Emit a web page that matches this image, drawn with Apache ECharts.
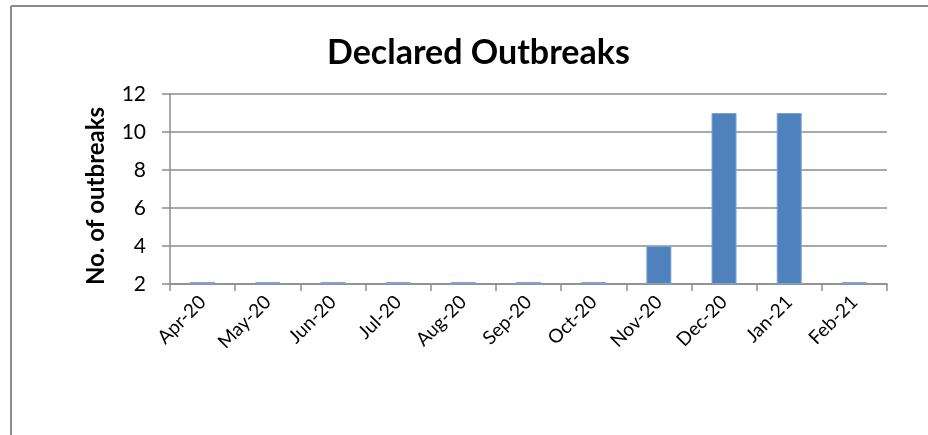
<!DOCTYPE html>
<html>
<head>
<meta charset="utf-8">
<script src="https://cdn.jsdelivr.net/npm/echarts@6/dist/echarts.min.js"></script>
<style>html,body{margin:0;padding:0;background:#fff}#c{width:928px;height:435px}</style>
</head>
<body>
<div id="c"></div>
<script>
var categories = ['Apr-20','May-20','Jun-20','Jul-20','Aug-20','Sep-20','Oct-20','Nov-20','Dec-20','Jan-21','Feb-21'];
var outbreaks = [2, 2, 2, 2, 2, 2, 2, 4, 11, 11, 2];
var yTicks = {min: 2, max: 12, interval: 2};

var chart = echarts.init(document.getElementById('c'), null, {renderer: 'canvas'});
chart.setOption({
  animation: false,
  backgroundColor: '#fff',
  title: {
    text: 'Declared Outbreaks',
    left: 322,
    top: 31,
    textStyle: {fontFamily: 'Lato', fontWeight: 'bold', fontSize: 34, color: '#000'}
  },
  graphic: [
    {type: 'line', shape: {x1: 11, y1: 6, x2: 928, y2: 6}, style: {stroke: '#8c8c8c', lineWidth: 2}},
    {type: 'line', shape: {x1: 11, y1: 6, x2: 11, y2: 435}, style: {stroke: '#8c8c8c', lineWidth: 2}}
  ],
  grid: {left: 170, right: 41, top: 94, bottom: 151, containLabel: false},
  xAxis: {
    type: 'category',
    data: categories,
    boundaryGap: true,
    axisLine: {lineStyle: {color: '#8c8c8c', width: 1.5}},
    axisTick: {show: true, length: 7, lineStyle: {color: '#8c8c8c', width: 1.5}},
    axisLabel: {rotate: 45, fontFamily: 'Lato', fontSize: 19, color: '#000', margin: 15, interval: 0}
  },
  yAxis: {
    type: 'value',
    min: yTicks.min, max: yTicks.max, interval: yTicks.interval,
    startValue: yTicks.min,
    name: 'No. of outbreaks',
    nameLocation: 'middle',
    nameGap: 62,
    nameTextStyle: {fontFamily: 'Lato', fontWeight: 'bold', fontSize: 24, color: '#000', padding: [0, 14, 0, 0]},
    axisLine: {show: true, lineStyle: {color: '#8c8c8c', width: 1.5}},
    axisTick: {show: true, length: 8, lineStyle: {color: '#8c8c8c', width: 1.5}},
    splitLine: {lineStyle: {color: '#8c8c8c', width: 1.5}},
    axisLabel: {fontFamily: 'Lato', fontSize: 21, color: '#000', margin: 24}
  },
  series: [{
    type: 'bar',
    data: outbreaks,
    barWidth: 25,
    barMinHeight: 2,
    clip: false,
    itemStyle: {color: '#4f81bd', borderColor: '#7ea3d1', borderWidth: 1},
    z: 5
  }]
});
</script>
</body>
</html>
